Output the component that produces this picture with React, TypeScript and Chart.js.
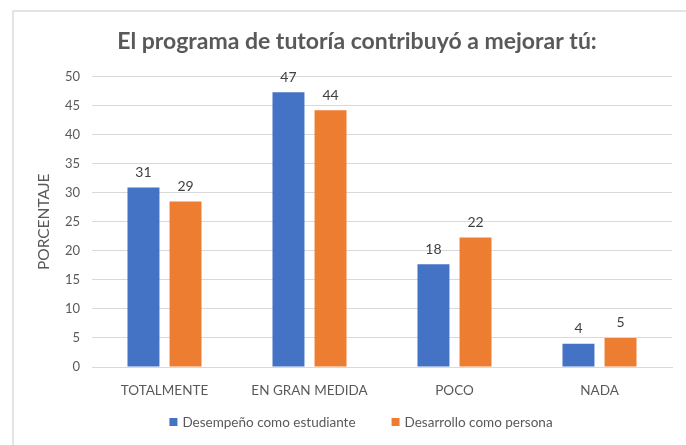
import React, { useEffect, useRef } from "react";
import { Chart, registerables } from "chart.js";

Chart.register(...registerables);

const categories = ["TOTALMENTE", "EN GRAN MEDIDA", "POCO", "NADA"];
const seriesNames = ["Desempeño como estudiante", "Desarrollo como persona"];
const desempeno = [30.9, 47.3, 17.7, 4.0];
const desarrollo = [28.5, 44.2, 22.3, 5.0];
const yTicks = [0, 5, 10, 15, 20, 25, 30, 35, 40, 45, 50];

const TEXT = "#595959";
const FONT = "Lato, 'Open Sans', sans-serif";

const framePlugin = {
  id: "frame",
  beforeDraw(chart: any) {
    const ctx = chart.ctx;
    ctx.save();
    ctx.fillStyle = "#ffffff";
    ctx.fillRect(0, 0, chart.width, chart.height);
    ctx.strokeStyle = "#e4e4e4";
    ctx.lineWidth = 2;
    ctx.beginPath();
    ctx.moveTo(13, chart.height);
    ctx.lineTo(13, 11);
    ctx.lineTo(chart.width, 11);
    ctx.stroke();
    ctx.restore();
  },
};

const valueLabels = {
  id: "valueLabels",
  afterDatasetsDraw(chart: any) {
    const ctx = chart.ctx;
    ctx.save();
    ctx.font = `14px ${FONT}`;
    ctx.fillStyle = "#404040";
    ctx.textAlign = "center";
    ctx.textBaseline = "bottom";
    chart.data.datasets.forEach((ds: any, i: number) => {
      const meta = chart.getDatasetMeta(i);
      meta.data.forEach((bar: any, j: number) => {
        ctx.fillText(String(Math.round(ds.data[j])), bar.x, bar.y - 8);
      });
    });
    ctx.restore();
  },
};

const customLegend = {
  id: "customLegend",
  afterDraw(chart: any) {
    const ctx = chart.ctx;
    ctx.save();
    ctx.font = `13.5px ${FONT}`;
    ctx.textBaseline = "middle";
    ctx.textAlign = "left";
    const box = 8;
    const textGap = 5;
    const itemGap = 36;
    const ds = chart.data.datasets;
    const widths = ds.map((d: any) => box + textGap + ctx.measureText(d.label).width);
    const total = widths.reduce((a: number, b: number) => a + b, 0) + itemGap * (ds.length - 1);
    let x = 361 - total / 2;
    const y = 422;
    ds.forEach((d: any, i: number) => {
      ctx.fillStyle = d.backgroundColor;
      ctx.fillRect(x, y - box / 2, box, box);
      ctx.fillStyle = TEXT;
      ctx.fillText(d.label, x + box + textGap, y + 1);
      x += widths[i] + itemGap;
    });
    ctx.restore();
  },
};

export default function App() {
  const ref = useRef<HTMLCanvasElement | null>(null);
  useEffect(() => {
    if (!ref.current) return;
    const chart = new Chart(ref.current, {
      type: "bar",
      data: {
        labels: categories,
        datasets: [
          {
            label: seriesNames[0],
            data: desempeno,
            backgroundColor: "#4472C4",
            categoryPercentage: 0.58,
            barPercentage: 0.76,
          },
          {
            label: seriesNames[1],
            data: desarrollo,
            backgroundColor: "#ED7D31",
            categoryPercentage: 0.58,
            barPercentage: 0.76,
          },
        ],
      },
      options: {
        responsive: false,
        animation: false,
        devicePixelRatio: 1,
        layout: { padding: { left: 28, right: 0, top: 12, bottom: 50 } },
        plugins: {
          title: {
            display: true,
            text: "El programa de tutoría contribuyó a mejorar tú:",
            color: TEXT,
            font: { family: FONT, size: 23, weight: "bold" },
            padding: { top: 16, bottom: 21 },
          },
          legend: { display: false },
          tooltip: { enabled: false },
        },
        scales: {
          x: {
            grid: { display: false },
            border: { color: "#d9d9d9" },
            ticks: { color: TEXT, font: { family: FONT, size: 13.5 }, padding: 8 },
            afterFit(scale: any) {
              scale.height = 28;
            },
          },
          y: {
            min: 0,
            max: 50,
            afterBuildTicks(scale: any) {
              scale.ticks = yTicks.map((v) => ({ value: v }));
            },
            grid: { color: "#d9d9d9", drawTicks: false },
            border: { display: false },
            ticks: { color: TEXT, font: { family: FONT, size: 13 }, padding: 12 },
            title: {
              display: true,
              text: "PORCENTAJE",
              color: TEXT,
              font: { family: FONT, size: 15.5 },
              padding: { top: 7, bottom: 0 },
            },
            afterFit(scale: any) {
              scale.width = 64;
            },
          },
          yR: {
            type: "linear",
            position: "right",
            display: true,
            grid: { display: false },
            border: { display: false },
            ticks: { display: false },
            afterFit(scale: any) {
              scale.width = 14;
            },
          },
        },
      },
      plugins: [framePlugin, valueLabels, customLegend],
    });
    return () => chart.destroy();
  }, []);
  return (
    <div style={{ position: "absolute", left: 0, top: 0, width: 686, height: 445, background: "#fff" }}>
      <canvas ref={ref} width={686} height={445} style={{ width: 686, height: 445, display: "block" }} />
    </div>
  );
}
